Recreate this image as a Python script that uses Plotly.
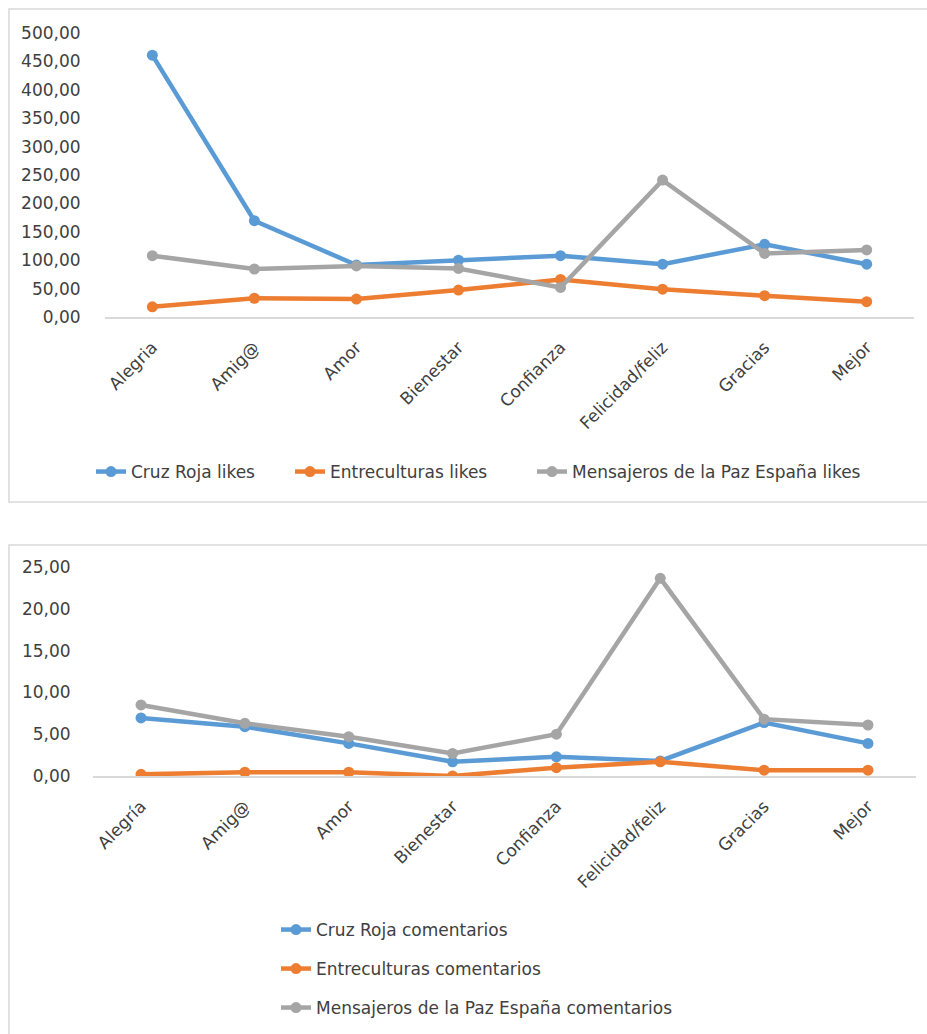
import plotly.graph_objects as go

W, H = 927, 1034

categories_top = ["Alegria", "Amig@", "Amor", "Bienestar", "Confianza", "Felicidad/feliz", "Gracias", "Mejor"]
categories_bottom = ["Alegría", "Amig@", "Amor", "Bienestar", "Confianza", "Felicidad/feliz", "Gracias", "Mejor"]

cruz_roja_likes = [461, 169.5, 91.5, 100, 108, 93, 128, 93]
entreculturas_likes = [18, 33, 31.5, 47.5, 66, 49, 37.5, 27]
mensajeros_likes = [108, 84.5, 90, 85.5, 52, 241, 112, 118]

cruz_roja_comentarios = [6.95, 5.9, 3.9, 1.7, 2.3, 1.8, 6.4, 3.9]
entreculturas_comentarios = [0.2, 0.45, 0.45, 0.0, 1.0, 1.7, 0.7, 0.7]
mensajeros_comentarios = [8.5, 6.3, 4.7, 2.7, 5.0, 23.65, 6.8, 6.1]

top_names = ["Cruz Roja likes", "Entreculturas likes", "Mensajeros de la Paz España likes"]
bottom_names = ["Cruz Roja comentarios", "Entreculturas comentarios", "Mensajeros de la Paz España comentarios"]
colors = ["#5B9BD5", "#ED7D31", "#A5A5A5"]

FONT = "DejaVu Sans"
TXT = "#404040"
TICK_SIZE = 17
LEG_SIZE = 17


def px(x):
    return x / W


def py(y):
    return 1 - y / H


fig = go.Figure()

top_legends = ["legend", "legend2", "legend3"]
bottom_legends = ["legend4", "legend5", "legend6"]

for name, vals, c, lg in zip(top_names, [cruz_roja_likes, entreculturas_likes, mensajeros_likes], colors, top_legends):
    fig.add_trace(go.Scatter(x=categories_top, y=vals, name=name, mode="lines+markers",
                             line=dict(color=c, width=4.5), marker=dict(color=c, size=11),
                             xaxis="x", yaxis="y", legend=lg, showlegend=True))

for name, vals, c, lg in zip(bottom_names, [cruz_roja_comentarios, entreculturas_comentarios, mensajeros_comentarios], colors, bottom_legends):
    fig.add_trace(go.Scatter(x=categories_bottom, y=vals, name=name, mode="lines+markers",
                             line=dict(color=c, width=4.5), marker=dict(color=c, size=11),
                             xaxis="x2", yaxis="y2", legend=lg, showlegend=True))

axis_common = dict(showgrid=False, zeroline=False, automargin=False, fixedrange=True,
                   tickfont=dict(family=FONT, size=TICK_SIZE, color=TXT))

legend_style = dict(font=dict(family=FONT, size=LEG_SIZE, color=TXT), bgcolor="rgba(0,0,0,0)",
                    xanchor="left", yanchor="middle", orientation="v")

# text start x positions and center y positions of legend entries
top_leg_pos = [(131, 472), (330, 472), (572, 472)]
bottom_leg_pos = [(316, 930), (316, 969), (316, 1008)]

legend_layout = {}
for lg, (tx, ty) in zip(top_legends + bottom_legends, top_leg_pos + bottom_leg_pos):
    legend_layout[lg] = dict(x=px(tx - 40), y=py(ty), **legend_style)

fig.update_layout(
    width=W, height=H,
    showlegend=True,
    margin=dict(l=0, r=0, t=0, b=0, autoexpand=False),
    paper_bgcolor="white", plot_bgcolor="white",
    separators=",.",
    font=dict(family=FONT, color=TXT),
    xaxis=dict(domain=[px(105), px(914)], anchor="y", showline=True, linecolor="#D9D9D9", linewidth=1.5,
               tickangle=-45, ticks="outside", ticklen=12, tickcolor="rgba(0,0,0,0)", **axis_common),
    yaxis=dict(domain=[py(317), py(33)], anchor="x", range=[0, 500],
               tickvals=[0, 50, 100, 150, 200, 250, 300, 350, 400, 450, 500],
               tickformat=".2f", ticks="outside", ticklen=20, tickcolor="rgba(0,0,0,0)", showline=False,
               **axis_common),
    xaxis2=dict(domain=[px(93), px(916)], anchor="y2", showline=True, linecolor="#D9D9D9", linewidth=1.5,
                tickangle=-45, ticks="outside", ticklen=12, tickcolor="rgba(0,0,0,0)", **axis_common),
    yaxis2=dict(domain=[py(776), py(567)], anchor="x2", range=[0, 25], tickvals=[0, 5, 10, 15, 20, 25],
                tickformat=".2f", ticks="outside", ticklen=18, tickcolor="rgba(0,0,0,0)", showline=False,
                **axis_common),
    shapes=[
        dict(type="rect", xref="paper", yref="paper", x0=px(9), x1=1.05, y0=py(502), y1=py(9),
             line=dict(color="#D9D9D9", width=1.5), layer="below"),
        dict(type="rect", xref="paper", yref="paper", x0=px(9), x1=1.05, y0=-0.05, y1=py(545),
             line=dict(color="#D9D9D9", width=1.5), layer="below"),
    ],
    **legend_layout,
)

fig.write_html("out.html")
